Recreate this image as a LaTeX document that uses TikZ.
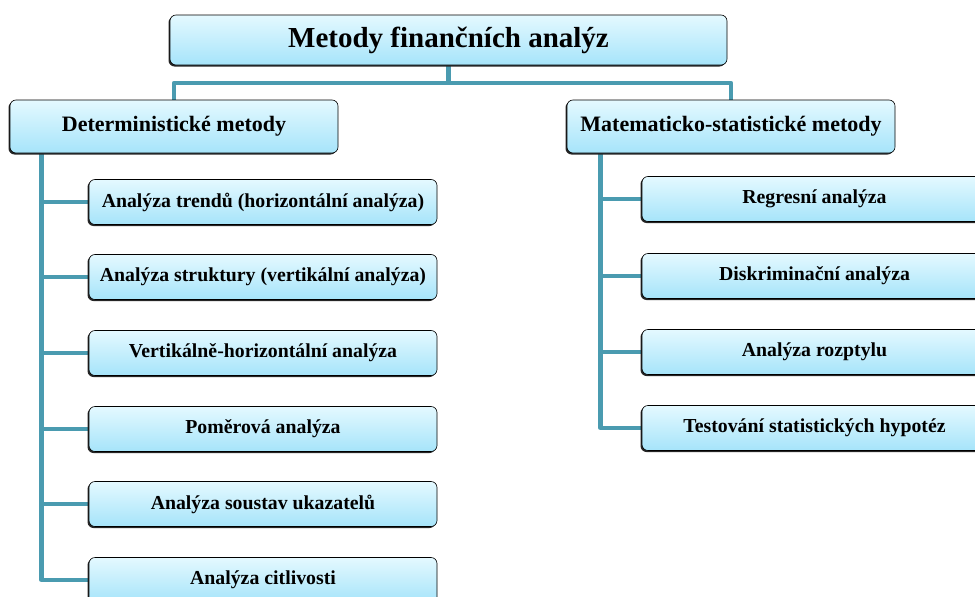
\documentclass[tikz,border=0pt]{standalone}
\usepackage{fontspec}
\setmainfont{Liberation Serif}
\usetikzlibrary{positioning,shadows,backgrounds}
\definecolor{boxTop}{RGB}{228,249,255}
\definecolor{boxBot}{RGB}{166,228,250}
\definecolor{linkT}{RGB}{74,155,176}

\begin{document}
\begin{tikzpicture}[x=1pt,y=-1pt, every node/.style={font=\bfseries},
  box/.style={draw=black, line width=0.6pt, rounded corners=6pt,
    top color=boxTop, bottom color=boxBot, inner sep=0pt, align=center,
    drop shadow={shadow xshift=-1.5pt, shadow yshift=-1.5pt, fill=black!85, opacity=1}},
  link/.style={linkT, line width=4.5pt, line join=round}]
  \useasboundingbox (0,0) rectangle (975,597);

  % root and the two groups
  \node[box, minimum width=557pt, minimum height=50pt,
        font=\bfseries\fontsize{29}{32}\selectfont] (root) at (448.5,40) {Metody finančních analýz};
  \node[box, minimum width=328pt, minimum height=53pt,
        font=\bfseries\fontsize{22}{26}\selectfont] (det) at (174,126.5) {Deterministické metody};
  \node[box, minimum width=328pt, minimum height=53pt,
        font=\bfseries\fontsize{22}{26}\selectfont] (mat) at (731,126.5) {Matematicko-statistické metody};

  % left column
  \foreach \i/\y/\lab in {1/202/{Analýza trendů (horizontální analýza)},
                          2/277/{Analýza struktury (vertikální analýza)},
                          3/353/{Vertikálně-horizontální analýza},
                          4/429/{Poměrová analýza},
                          5/504/{Analýza soustav ukazatelů},
                          6/580/{Analýza citlivosti}} {
    \node[box, minimum width=348pt, minimum height=45pt,
          font=\bfseries\fontsize{19.8}{22}\selectfont] (d\i) at (263,\y) {\lab};
  }

  % right column
  \foreach \i/\y/\lab in {1/199/{Regresní analýza},
                          2/276/{Diskriminační analýza},
                          3/352/{Analýza rozptylu},
                          4/428/{Testování statistických hypotéz}} {
    \node[box, minimum width=345pt, minimum height=45pt,
          font=\bfseries\fontsize{19.8}{22}\selectfont] (m\i) at (814.5,\y) {\lab};
  }

  % connectors
  \begin{scope}[on background layer]
    \coordinate (split) at (448.5,83);
    \draw[link] (root.south) -- (split);
    \draw[link] (det.north) |- (split) -| (mat.north);

    \coordinate (dtop) at ([xshift=32pt]det.south west);
    \draw[link] (dtop) |- (d6.west);
    \foreach \i in {1,...,5}
      \draw[link] (dtop |- d\i.west) -- (d\i.west);

    \coordinate (mtop) at ([xshift=34pt]mat.south west);
    \draw[link] (mtop) |- (m4.west);
    \foreach \i in {1,...,3}
      \draw[link] (mtop |- m\i.west) -- (m\i.west);
  \end{scope}
\end{tikzpicture}
\end{document}
